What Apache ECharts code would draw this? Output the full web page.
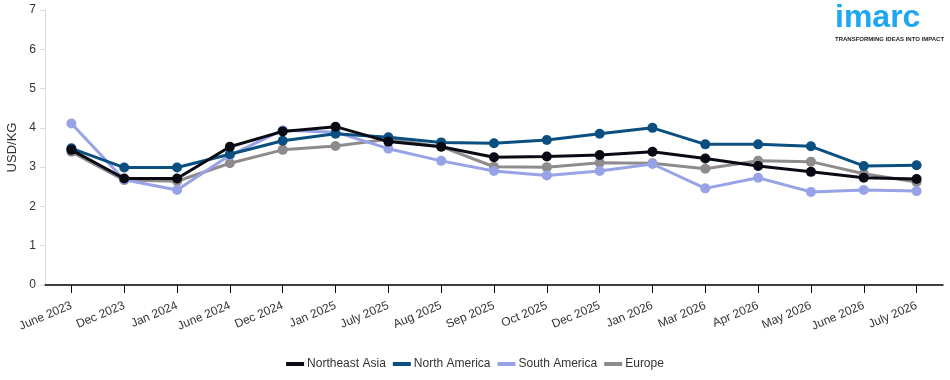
<!DOCTYPE html>
<html>
<head>
<meta charset="utf-8">
<script src="https://cdn.jsdelivr.net/npm/echarts@6/dist/echarts.min.js"></script>
<style>
html,body{margin:0;padding:0;background:#fff;}
#chart{width:950px;height:380px;}
</style>
</head>
<body>
<div id="chart"></div>
<script>
const categories = ["June 2023","Dec 2023","Jan 2024","June 2024","Dec 2024","Jan 2025","July 2025","Aug 2025","Sep 2025","Oct 2025","Dec 2025","Jan 2026","Mar 2026","Apr 2026","May 2026","June 2026","July 2026"];
const northeastAsia = [3.44,2.71,2.71,3.52,3.91,4.03,3.65,3.52,3.25,3.27,3.31,3.39,3.22,3.03,2.88,2.73,2.70];
const northAmerica  = [3.48,2.99,2.99,3.33,3.67,3.85,3.76,3.63,3.61,3.69,3.85,4.00,3.58,3.58,3.53,3.03,3.05];
const southAmerica  = [4.11,2.68,2.42,3.30,3.94,3.89,3.47,3.16,2.90,2.79,2.90,3.08,2.46,2.73,2.37,2.42,2.39];
const europe        = [3.39,2.67,2.64,3.10,3.44,3.54,3.71,3.52,3.01,3.00,3.11,3.10,2.96,3.16,3.14,2.83,2.62];
const yTicks = [0,1,2,3,4,5,6,7];

const FONT = "Liberation Sans, Arial, sans-serif";
function mk(name, data, color, z){
  return {name, type:'line', data, z,
    symbol:'circle', symbolSize:10, showSymbol:true,
    lineStyle:{color, width:3}, itemStyle:{color},
    emphasis:{disabled:true}};
}
const chart = echarts.init(document.getElementById('chart'));
chart.setOption({
  animation:false,
  textStyle:{fontFamily:FONT},
  grid:{left:45, right:7, top:10, bottom:95, containLabel:false, outerBoundsMode:'none'},
  xAxis:{type:'category', data:categories, boundaryGap:true,
    axisLine:{lineStyle:{color:'#000', width:1.5}},
    axisTick:{show:true, alignWithLabel:true, length:8, lineStyle:{color:'#000'}},
    axisLabel:{rotate:23, fontSize:12, color:'#333', fontFamily:FONT, margin:20, interval:0}},
  yAxis:{type:'value', min:yTicks[0], max:yTicks[yTicks.length-1], interval:1,
    name:'USD/KG', nameLocation:'middle', nameGap:26, nameRotate:90,
    nameTextStyle:{fontSize:13, color:'#333', fontFamily:FONT},
    axisLine:{show:true, lineStyle:{color:'#ddd'}},
    axisTick:{show:true, length:5, lineStyle:{color:'#ddd'}},
    splitLine:{show:false},
    axisLabel:{fontSize:12, color:'#333', fontFamily:FONT, margin:9}},
  legend:{top:353, left:'center', itemWidth:18, itemHeight:4, itemGap:7,
    icon:'rect',
    textStyle:{fontSize:12, color:'#333', fontFamily:FONT, padding:[0,0,0,-2]},
    data:['Northeast Asia','North America','South America','Europe']},
  graphic:[
    {type:'text', left:835, top:2, style:{text:'imarc', fill:'#1ea7ef', font:'bold 32px '+FONT}},
    {type:'text', left:835, top:36, style:{text:'TRANSFORMING IDEAS INTO IMPACT', fill:'#222', font:'bold 6px '+FONT}}
  ],
  series:[
    mk('Europe', europe, '#8f8b8c', 2),
    mk('South America', southAmerica, '#97a3e6', 3),
    mk('North America', northAmerica, '#0b4f80', 4),
    mk('Northeast Asia', northeastAsia, '#0a0a14', 5)
  ]
});
</script>
</body>
</html>
